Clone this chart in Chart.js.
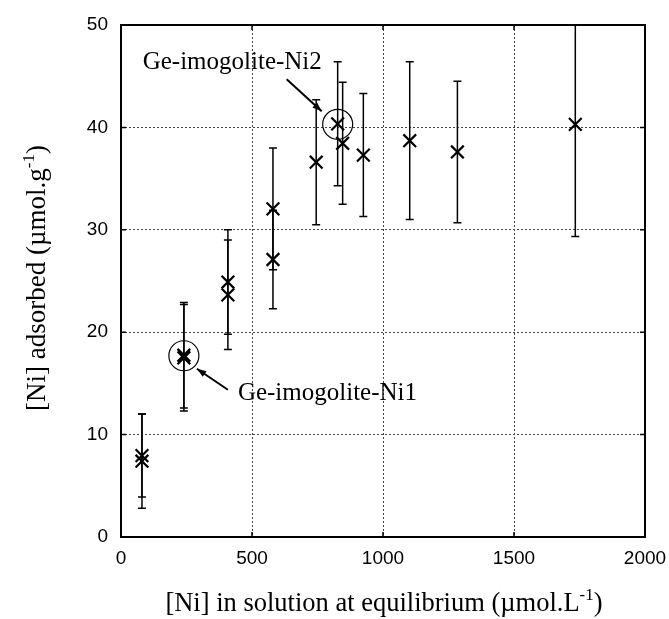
<!DOCTYPE html>
<html>
<head>
<meta charset="utf-8">
<script src="https://cdn.jsdelivr.net/npm/chart.js@4"></script>
<style>
html,body{margin:0;padding:0;background:#fff;}
#wrap{width:669px;height:619px;position:relative;}
</style>
</head>
<body>
<div id="wrap"><canvas id="c" width="669" height="619"></canvas></div>
<script>
// ---- data ----
const niSolution = [80, 80, 240, 240, 408, 408, 580, 580, 745, 827, 846, 925, 1102, 1284, 1734];
const niAdsorbed = [7.95, 7.4, 17.75, 17.5, 24.9, 23.65, 32.05, 27.1, 36.6, 40.35, 38.45, 37.3, 38.7, 37.6, 40.3];
const errorBars  = [4.05, 4.6, 5.15, 5.2, 5.1, 5.35, 5.95, 4.8, 6.1, 6.05, 5.95, 6.0, 7.7, 6.9, 10.95];
const xTicks = [0, 500, 1000, 1500, 2000];
const yTicks = [0, 10, 20, 30, 40, 50];
const labelNi1 = {text: 'Ge-imogolite-Ni1', x: 240, y: 17.7};
const labelNi2 = {text: 'Ge-imogolite-Ni2', x: 827, y: 40.3};
const xTitle = ['[Ni] in solution at equilibrium (µmol.L', '-1', ')'];
const yTitle = ['[Ni] adsorbed (µmol.g', '-1', ')'];

const points = niSolution.map((x, i) => ({x: x, y: niAdsorbed[i]}));

function drawSupText(ctx, parts, font, supFont, supRise) {
  ctx.font = font;
  const w0 = ctx.measureText(parts[0]).width;
  const w2 = ctx.measureText(parts[2]).width;
  ctx.font = supFont;
  const w1 = ctx.measureText(parts[1]).width;
  const total = w0 + w1 + w2;
  let x = -total / 2;
  ctx.textBaseline = 'alphabetic';
  ctx.textAlign = 'left';
  ctx.font = font;
  ctx.fillText(parts[0], x, 0); x += w0;
  ctx.font = supFont;
  ctx.fillText(parts[1], x, -supRise); x += w1;
  ctx.font = font;
  ctx.fillText(parts[2], x, 0);
}

const decor = {
  id: 'decor',
  beforeDatasetsDraw(chart) {
    const ctx = chart.ctx, xs = chart.scales.x, ys = chart.scales.y;
    const a = chart.chartArea;
    ctx.save();
    // inward tick marks
    ctx.strokeStyle = '#000'; ctx.lineWidth = 1.5;
    xTicks.forEach(v => {
      const px = xs.getPixelForValue(v);
      ctx.beginPath(); ctx.moveTo(px, a.bottom); ctx.lineTo(px, a.bottom - 5);
      ctx.moveTo(px, a.top); ctx.lineTo(px, a.top + 5); ctx.stroke();
    });
    yTicks.forEach(v => {
      const py = ys.getPixelForValue(v);
      ctx.beginPath(); ctx.moveTo(a.left, py); ctx.lineTo(a.left + 5, py);
      ctx.moveTo(a.right, py); ctx.lineTo(a.right - 5, py); ctx.stroke();
    });
    // plot border
    ctx.lineWidth = 2;
    ctx.strokeRect(a.left, a.top, a.right - a.left, a.bottom - a.top);
    // error bars
    ctx.beginPath();
    ctx.rect(a.left, a.top, a.right - a.left, a.bottom - a.top);
    ctx.clip();
    ctx.lineWidth = 1.5;
    points.forEach((p, i) => {
      const px = xs.getPixelForValue(p.x);
      const pt = ys.getPixelForValue(p.y + errorBars[i]);
      const pb = ys.getPixelForValue(p.y - errorBars[i]);
      ctx.beginPath();
      ctx.moveTo(px, pt); ctx.lineTo(px, pb);
      ctx.moveTo(px - 4, pt); ctx.lineTo(px + 4, pt);
      ctx.moveTo(px - 4, pb); ctx.lineTo(px + 4, pb);
      ctx.stroke();
    });
    ctx.restore();
  },
  afterDatasetsDraw(chart) {
    const ctx = chart.ctx, xs = chart.scales.x, ys = chart.scales.y;
    ctx.save();
    ctx.strokeStyle = '#000'; ctx.fillStyle = '#000'; ctx.lineWidth = 1.2;
    // circles
    [labelNi1, labelNi2].forEach(l => {
      ctx.beginPath();
      ctx.arc(xs.getPixelForValue(l.x), ys.getPixelForValue(l.y), 15, 0, Math.PI * 2);
      ctx.stroke();
    });
    // arrows
    function arrow(x1, y1, x2, y2) {
      ctx.lineWidth = 2;
      ctx.beginPath(); ctx.moveTo(x1, y1); ctx.lineTo(x2, y2); ctx.stroke();
      const ang = Math.atan2(y2 - y1, x2 - x1);
      const L = 10, W = 0.35;
      ctx.beginPath();
      ctx.moveTo(x2, y2);
      ctx.lineTo(x2 - L * Math.cos(ang - W), y2 - L * Math.sin(ang - W));
      ctx.lineTo(x2 - L * Math.cos(ang + W), y2 - L * Math.sin(ang + W));
      ctx.closePath(); ctx.fill();
    }
    const n1x = xs.getPixelForValue(labelNi1.x), n1y = ys.getPixelForValue(labelNi1.y);
    const n2x = xs.getPixelForValue(labelNi2.x), n2y = ys.getPixelForValue(labelNi2.y);
    arrow(n1x + 44, n1y + 34, n1x + 13, n1y + 13);
    arrow(n2x - 51, n2y - 45, n2x - 16, n2y - 13);
    ctx.font = '25px "Liberation Serif", "Times New Roman", serif';
    ctx.textBaseline = 'middle';
    ctx.textAlign = 'left';
    ctx.fillText(labelNi1.text, n1x + 54, n1y + 38);
    ctx.fillText(labelNi2.text, n2x - 195, n2y - 62);
    // axis titles
    const f = '26.5px "Liberation Serif", "Times New Roman", serif';
    const sf = '17px "Liberation Serif", "Times New Roman", serif';
    ctx.save();
    ctx.translate(384, 611);
    drawSupText(ctx, xTitle, f, sf, 11);
    ctx.restore();
    ctx.save();
    ctx.translate(45, 278);
    ctx.rotate(-Math.PI / 2);
    drawSupText(ctx, yTitle, '27px "Liberation Serif", "Times New Roman", serif', sf, 11);
    ctx.restore();
    ctx.restore();
  }
};

new Chart(document.getElementById('c'), {
  type: 'scatter',
  data: {
    datasets: [{
      data: points,
      pointStyle: 'crossRot',
      pointRadius: 9,
      pointHoverRadius: 9,
      borderColor: '#000',
      backgroundColor: '#000',
      pointBorderWidth: 2.2,
      showLine: false
    }]
  },
  options: {
    responsive: false,
    animation: false,
    events: [],
    layout: {padding: {top: 25, right: 24, left: 0, bottom: 0}},
    plugins: {legend: {display: false}, tooltip: {enabled: false}},
    scales: {
      x: {
        type: 'linear', min: 0, max: 2000,
        afterBuildTicks: s => { s.ticks = xTicks.map(v => ({value: v})); },
        afterFit: s => { s.height = 82; s.paddingLeft = 0; s.paddingRight = 0; },
        grid: {color: '#444', lineWidth: 1, drawTicks: false},
        border: {display: false, dash: [2, 2]},
        ticks: {color: '#000', padding: 10, maxRotation: 0,
          callback: v => String(v),
          font: {family: '"Liberation Sans", Arial, sans-serif', size: 19}}
      },
      y: {
        type: 'linear', min: 0, max: 50,
        afterBuildTicks: s => { s.ticks = yTicks.map(v => ({value: v})); },
        afterFit: s => { s.width = 121; s.paddingTop = 0; s.paddingBottom = 0; },
        grid: {color: '#444', lineWidth: 1, drawTicks: false},
        border: {display: false, dash: [2, 2]},
        ticks: {color: '#000', padding: 13,
          callback: v => String(v),
          font: {family: '"Liberation Sans", Arial, sans-serif', size: 19}}
      }
    }
  },
  plugins: [decor]
});
</script>
</body>
</html>
